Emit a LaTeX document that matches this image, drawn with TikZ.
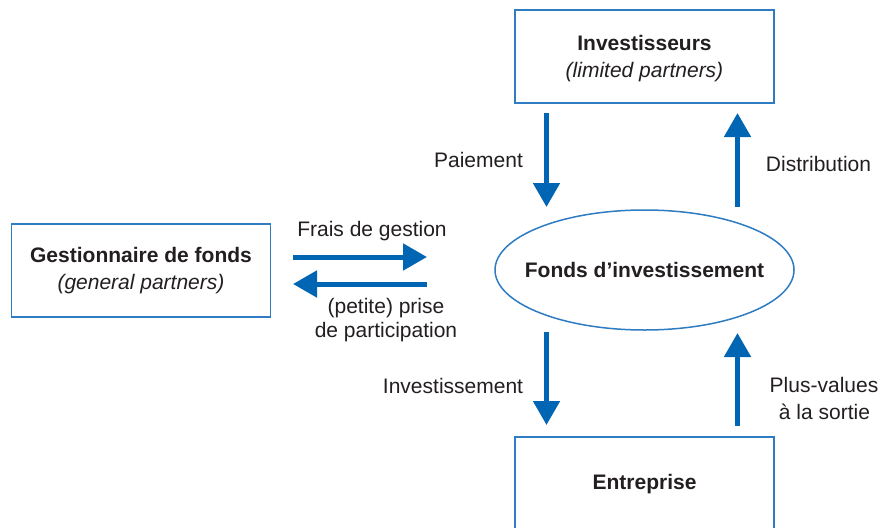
\documentclass[tikz,border=0pt]{standalone}
\usepackage{fontspec}
\setmainfont{Liberation Sans}
\usetikzlibrary{arrows.meta,shapes.geometric}
\definecolor{txt}{HTML}{231F20}
\definecolor{arrowblue}{HTML}{0066B3}
\definecolor{boxblue}{HTML}{2F7CC2}
\begin{document}
\begin{tikzpicture}[x=1pt,y=-1pt,
  every node/.style={text=txt, font=\fontsize{21}{27}\selectfont, inner sep=0pt},
  box/.style={draw=boxblue, line width=1.5pt, minimum width=259pt, minimum height=93pt},
  lbl/.style={anchor=base},
  flow/.style={draw=arrowblue, line width=5pt, -{Triangle[length=24pt,width=26pt]}}]
\useasboundingbox[fill=white] (0,0) rectangle (882,527);

% boxes
\node[box] (inv) at (644.5,56.5) {};
\node[box] (gest) at (141,270.5) {};
\node[box] (entr) at (644.5,483.5) {};
\node[draw=boxblue, line width=1.5pt, ellipse, minimum width=299pt, minimum height=120pt] (fonds) at (644.5,270) {};

% box texts
\node[lbl] (invT1) at (644.5,50) {\bfseries Investisseurs};
\node[lbl] (invT2) at (644.5,77) {\itshape (limited partners)};
\node[lbl] (gestT1) at (141,262) {\bfseries Gestionnaire de fonds};
\node[lbl] (gestT2) at (141,289) {\itshape (general partners)};
\node[lbl] (fondsT) at (644.5,277) {\bfseries Fonds d’investissement};
\node[lbl] (entrT) at (644.5,489) {\bfseries Entreprise};

% arrow end points
\coordinate (payA) at (546.5,113);
\coordinate (payB) at (546.5,207);
\coordinate (disA) at (737.5,207);
\coordinate (disB) at (737.5,113);
\coordinate (ivA) at (546.5,332);
\coordinate (ivB) at (546.5,425);
\coordinate (plA) at (737.5,426);
\coordinate (plB) at (737.5,333);
\coordinate (frA) at (293,257);
\coordinate (frB) at (427,257);
\coordinate (prA) at (427,284);
\coordinate (prB) at (293,284);

\draw[flow] (payA) -- (payB);
\draw[flow] (disA) -- (disB);
\draw[flow] (ivA) -- (ivB);
\draw[flow] (plA) -- (plB);
\draw[flow] (frA) -- (frB);
\draw[flow] (prA) -- (prB);

% arrow labels
\node[lbl] (lpay) at (478.5,167.5) {Paiement};
\node[lbl] (ldis) at (818.5,171.5) {Distribution};
\node[lbl] (lfr) at (372,236) {Frais de gestion};
\node[lbl] (lpr1) at (386,313) {(petite) prise};
\node[lbl] (lpr2) at (386,337) {de participation};
\node[lbl] (liv) at (453,393) {Investissement};
\node[lbl] (lpl1) at (824,392) {Plus-values};
\node[lbl] (lpl2) at (824.5,419) {à la sortie};
\end{tikzpicture}
\end{document}
